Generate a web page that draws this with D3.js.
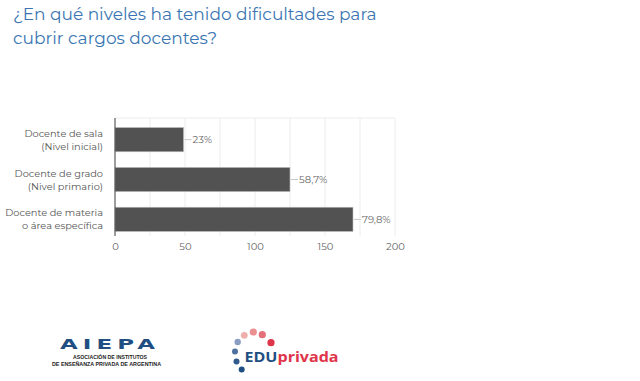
<!DOCTYPE html>
<html><head><meta charset="utf-8">
<script src="https://cdn.jsdelivr.net/npm/d3@7"></script>
<style>body{margin:0;background:#fff;}svg{display:block;}</style>
</head><body>
<svg id="c" width="640" height="381"></svg>
<script>
const titleLines = ["¿En qué niveles ha tenido dificultades para", "cubrir cargos docentes?"];
const categories = [["Docente de sala", "(Nivel inicial)"], ["Docente de grado", "(Nivel primario)"], ["Docente de materia", "o área específica"]];
const values = [49, 125, 170];
const valueLabels = ["23%", "58,7%", "79,8%"];
const xTicks = [0, 50, 100, 150, 200];
const gridTicks = [0, 25, 50, 75, 100, 125, 150, 175, 200];

const svg = d3.select("#c");
const F = "Montserrat, 'Open Sans', Lato, sans-serif";

svg.append("g").selectAll("text").data(titleLines).join("text")
  .attr("x", 13).attr("y", (d,i)=>20 + i*24)
  .attr("font-family", F).attr("font-size", 17).attr("fill", "#3b76b3")
  .text(d=>d);

const x = d3.scaleLinear().domain([0,200]).range([115,395]);
const y = d3.scaleBand().domain(d3.range(categories.length)).range([119.5,239.5]).paddingInner(0.39).paddingOuter(0.2);

const g = svg.append("g");
g.selectAll("line.grid").data(gridTicks).join("line")
  .attr("x1", d=>x(d)).attr("x2", d=>x(d)).attr("y1", 118).attr("y2", 236)
  .attr("stroke", "#ececec").attr("stroke-width", 1);
g.append("line").attr("x1",115).attr("x2",395).attr("y1",118).attr("y2",118).attr("stroke","#ececec");

g.selectAll("rect").data(values).join("rect")
  .attr("x", x(0)).attr("y", (d,i)=>y(i)).attr("width", d=>x(d)-x(0)).attr("height", y.bandwidth())
  .attr("fill", "#525252").attr("stroke", "#c4c4c4").attr("stroke-width", 0.6);

g.append("line").attr("x1",115).attr("x2",115).attr("y1",118).attr("y2",236).attr("stroke","#444").attr("stroke-width",1);

g.selectAll("line.lead").data(values).join("line")
  .attr("x1", d=>x(d)+1).attr("x2", d=>x(d)+8).attr("y1",(d,i)=>y(i)+y.bandwidth()/2).attr("y2",(d,i)=>y(i)+y.bandwidth()/2)
  .attr("stroke","#c8c8c8");
g.selectAll("text.val").data(values).join("text")
  .attr("x", d=>x(d)+9).attr("y",(d,i)=>y(i)+y.bandwidth()/2+3.5)
  .attr("font-family", F).attr("font-size", 10).attr("fill","#666")
  .text((d,i)=>valueLabels[i]);

const cat = g.selectAll("text.cat").data(categories).join("text")
  .attr("text-anchor","end").attr("font-family", F).attr("font-size", 9.8).attr("fill","#555");
cat.selectAll("tspan").data((d,i)=>d.map(t=>({t,i}))).join("tspan")
  .attr("x", 103).attr("y", (d,j)=>y(d.i)+y.bandwidth()/2 - 3 + j*13)
  .text(d=>d.t);

const ax = svg.append("g").attr("transform","translate(0,236)")
  .call(d3.axisBottom(x).tickValues(xTicks).tickSize(0).tickPadding(7));
ax.select(".domain").remove();
ax.selectAll("text").attr("font-family", F).attr("font-size", 10).attr("fill","#666");

// logos
const L = svg.append("g");
L.append("text").attr("x",60).attr("y",349)
  .attr("font-family","'DejaVu Sans', sans-serif").attr("font-size",13.5).attr("font-weight","bold")
  .attr("letter-spacing",3)
  .attr("textLength",100).attr("lengthAdjust","spacingAndGlyphs").attr("fill","#1f4e82").text("AIEPA");
L.append("text").attr("x",73).attr("y",358.5)
  .attr("font-family","'Liberation Sans Narrow','Liberation Sans', sans-serif").attr("font-size",5.8).attr("font-weight","bold").attr("fill","#222")
  .attr("textLength",74).attr("lengthAdjust","spacingAndGlyphs")
  .text("ASOCIACIÓN DE INSTITUTOS");
L.append("text").attr("x",52).attr("y",366.3)
  .attr("font-family","'Liberation Sans Narrow','Liberation Sans', sans-serif").attr("font-size",5.8).attr("font-weight","bold").attr("fill","#222")
  .attr("textLength",109).attr("lengthAdjust","spacingAndGlyphs")
  .text("DE ENSEÑANZA PRIVADA DE ARGENTINA");

const dots = [[241.7,369.5,3,"#1f4e82"],[236.5,361.5,3,"#2f5a8c"],[235,351.5,3,"#4f71a0"],[237.7,342,3.2,"#8a9ec4"],[244.3,335.3,3.4,"#efb0ad"],[253.3,332,3.6,"#ec9091"],[262.3,334.7,3.6,"#e4717a"],[271,342.7,3.6,"#e0344a"]];
L.selectAll("circle").data(dots).join("circle").attr("cx",d=>d[0]).attr("cy",d=>d[1]).attr("r",d=>d[2]).attr("fill",d=>d[3]);
const t = L.append("text").attr("x",244.5).attr("y",361.5).attr("font-family","'Open Sans', sans-serif").attr("font-size",14).attr("font-weight","bold")
  .attr("textLength",94).attr("lengthAdjust","spacingAndGlyphs");
t.append("tspan").attr("fill","#1f4e82").text("EDU");
t.append("tspan").attr("fill","#e0344a").text("privada");
</script>
</body></html>
